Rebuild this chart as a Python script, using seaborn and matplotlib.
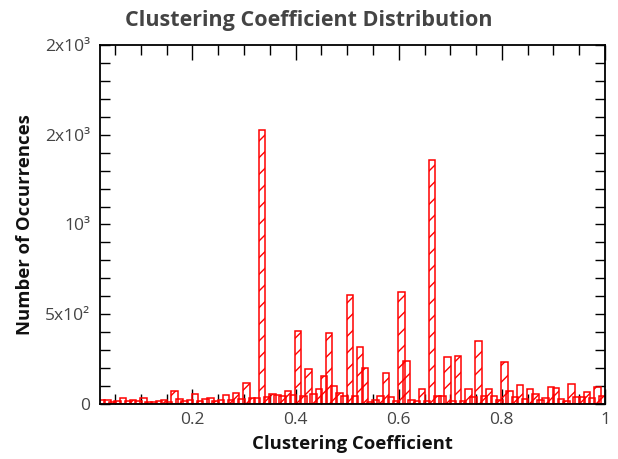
import matplotlib
matplotlib.use("Agg")
import matplotlib.pyplot as plt
import seaborn as sns
import pandas as pd
from matplotlib.ticker import FixedLocator, MultipleLocator

# ---- data ----
bin_centers = [
    0.025, 0.035, 0.045, 0.055, 0.065, 0.075, 0.085, 0.095, 0.105, 0.115,
    0.125, 0.135, 0.145, 0.155, 0.165, 0.175, 0.185, 0.195, 0.205, 0.215,
    0.225, 0.235, 0.245, 0.255, 0.265, 0.275, 0.285, 0.295, 0.305, 0.315,
    0.325, 0.335, 0.345, 0.355, 0.365, 0.375, 0.385, 0.395, 0.405, 0.415,
    0.425, 0.435, 0.445, 0.455, 0.465, 0.475, 0.485, 0.495, 0.505, 0.515,
    0.525, 0.535, 0.545, 0.555, 0.565, 0.575, 0.585, 0.595, 0.605, 0.615,
    0.625, 0.635, 0.645, 0.655, 0.665, 0.675, 0.685, 0.695, 0.705, 0.715,
    0.725, 0.735, 0.745, 0.755, 0.765, 0.775, 0.785, 0.795, 0.805, 0.815,
    0.825, 0.835, 0.845, 0.855, 0.865, 0.875, 0.885, 0.895, 0.905, 0.915,
    0.925, 0.935, 0.945, 0.955, 0.965, 0.975, 0.985, 0.995,
]
occurrences = [
    20, 22, 12, 15, 33, 18, 22, 15, 33, 12,
    11, 18, 22, 12, 72, 28, 15, 22, 56, 18,
    28, 33, 15, 22, 50, 20, 61, 25, 117, 33,
    33, 1527, 40, 56, 50, 45, 72, 50, 407, 45,
    195, 56, 84, 156, 396, 100, 61, 45, 608, 45,
    318, 200, 12, 22, 45, 173, 39, 15, 624, 240,
    22, 15, 84, 17, 1360, 45, 45, 262, 17, 268,
    15, 84, 39, 351, 45, 84, 45, 20, 234, 72,
    39, 106, 28, 84, 56, 20, 33, 95, 89, 28,
    15, 111, 39, 39, 67, 33, 95, 45,
]
x_ticks = [0.2, 0.4, 0.6, 0.8, 1.0]
x_tick_labels = ["0.2", "0.4", "0.6", "0.8", "1"]
y_ticks = [0, 500, 1000, 1500, 2000]
y_tick_labels = ["0", "5x10²", "10³", "2x10³", "2x10³"]

df = pd.DataFrame({"cc": bin_centers, "n": occurrences})

sns.set_style("ticks")
plt.rcParams["font.family"] = ["Open Sans", "DejaVu Sans"]
plt.rcParams["hatch.color"] = "red"
plt.rcParams["hatch.linewidth"] = 1.0

fig = plt.figure(figsize=(6.18, 4.59), dpi=100)
ax = fig.add_axes([0.162, 0.12, 0.817, 0.782])

sns.barplot(data=df, x="cc", y="n", native_scale=True, width=1.25,
            errorbar=None, color="red", ax=ax)
for p in ax.patches:
    p.set_facecolor("none")
    p.set_edgecolor("red")
    p.set_linewidth(1.1)
    p.set_hatch("//")

ax.set_xlim(0.021, 1.0)
ax.set_ylim(0, 2000)
ax.xaxis.set_major_locator(FixedLocator(x_ticks))
ax.set_xticklabels(x_tick_labels)
ax.xaxis.set_minor_locator(MultipleLocator(0.05))
ax.yaxis.set_major_locator(FixedLocator(y_ticks))
ax.set_yticklabels(y_tick_labels)
ax.yaxis.set_minor_locator(MultipleLocator(100))

ax.tick_params(axis="both", which="both", direction="in", top=True, right=True,
               colors="black", labelcolor="#444444", labelsize=12.5, width=1.0)
ax.tick_params(axis="x", which="major", length=11, pad=6)
ax.tick_params(axis="x", which="minor", length=7.5)
ax.tick_params(axis="y", which="both", length=7.5, pad=7)

for s in ax.spines.values():
    s.set_linewidth(1.3)
    s.set_color("black")
    s.set_visible(True)

ax.set_xlabel("Clustering Coefficient", fontsize=13.3, fontweight="bold",
              color="#111111", labelpad=5)
ax.set_ylabel("Number of Occurrences", fontsize=13.3, fontweight="bold",
              color="#111111", labelpad=8)
fig.suptitle("Clustering Coefficient Distribution", x=0.5, y=0.978,
             fontsize=15.5, fontweight="bold", color="#444444")

fig.savefig("out.png", dpi=100)
